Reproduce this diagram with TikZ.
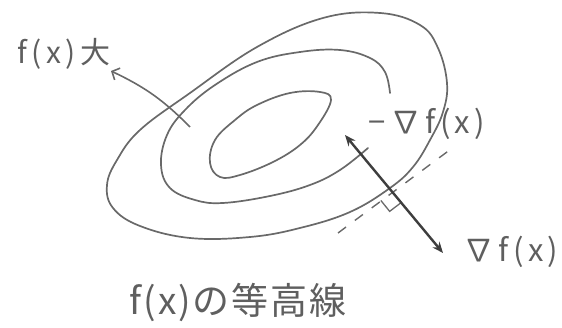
\documentclass[tikz,border=0pt]{standalone}
\usepackage{fontspec}
\setmainfont{Noto Sans CJK JP}
\usepackage{tikz}
\usetikzlibrary{arrows.meta,calc}
\definecolor{pencil}{RGB}{105,105,105}
\definecolor{pencildark}{RGB}{62,62,62}
\definecolor{inkgray}{RGB}{95,95,95}

\begin{document}
\begin{tikzpicture}[x=1pt, y=-1pt,
  contour/.style={draw=pencil, line width=1.7pt, line cap=round, line join=round},
  tangent/.style={draw=pencil, line width=1.4pt, dash pattern=on 10pt off 11pt},
  rightmark/.style={draw=pencil, line width=1.3pt},
  gradarrow/.style={draw=pencildark, line width=2.4pt, {Stealth[length=11pt,width=9pt]}-{Stealth[length=11pt,width=9pt]}},
  hillarrow/.style={draw=pencil, line width=1.6pt, -{Straight Barb[length=6pt,width=13pt]}},
  lbl/.style={text=inkgray, inner sep=0pt}]
\useasboundingbox (0,0) rectangle (562,328);

% contour lines
\draw[contour] plot[smooth cycle, tension=0.65] coordinates {
  (447,83) (443,112) (430,140) (413,167) (390,188) (350,212) (300,228)
  (250,237) (190,238) (140,226) (113,208) (107,185) (117,160) (140,130)
  (190,93) (257,47) (323,18) (380,13) (420,25) (438,48)};
\draw[contour] plot[smooth, tension=0.65] coordinates {
  (390,93) (385,72) (370,58) (340,50) (300,52) (257,62) (215,85) (185,110)
  (167,135) (161,165) (170,188) (195,200) (223,203) (270,196) (310,185)
  (340,170) (368,148)};
\draw[contour] plot[smooth cycle, tension=0.65] coordinates {
  (331,100) (318,125) (300,145) (273,162) (240,175) (220,177) (210,163)
  (215,140) (235,120) (257,105) (290,93) (320,92)};

% tangent and gradient
\coordinate (ptan) at (392,192);
\coordinate (tanA) at (338,233);
\coordinate (tanB) at (451,149);
\coordinate (gtop) at (345,135);
\coordinate (gbot) at (443,253);
\draw[tangent] (tanA) -- (tanB);
\draw[rightmark] ($(ptan)!14pt!(tanA)$) -- ++(8.8,10.9) -- ($(ptan)!14pt!(gbot)$);
\draw[gradarrow] (gtop) -- (gbot);

% labels
\node[lbl, font=\fontsize{30}{34}\selectfont\addfontfeature{LetterSpace=15}] (fmax) at (64,54) {f(x)大};
\node[lbl, font=\fontsize{31}{34}\selectfont\addfontfeature{LetterSpace=14}] (ngrad) at (427,124) {−∇f(x)};
\node[lbl, font=\fontsize{31}{34}\selectfont\addfontfeature{LetterSpace=14}] (pgrad) at (511,252) {∇f(x)};
\node[lbl, font=\fontsize{37}{40}\selectfont\addfontfeature{LetterSpace=5}] (title) at (238,302) {f(x)の等高線};

\coordinate (hill) at (190,127);
\coordinate (peaktip) at (111,71);
\draw[hillarrow] (hill) to[bend right=10] (peaktip);
\end{tikzpicture}
\end{document}
